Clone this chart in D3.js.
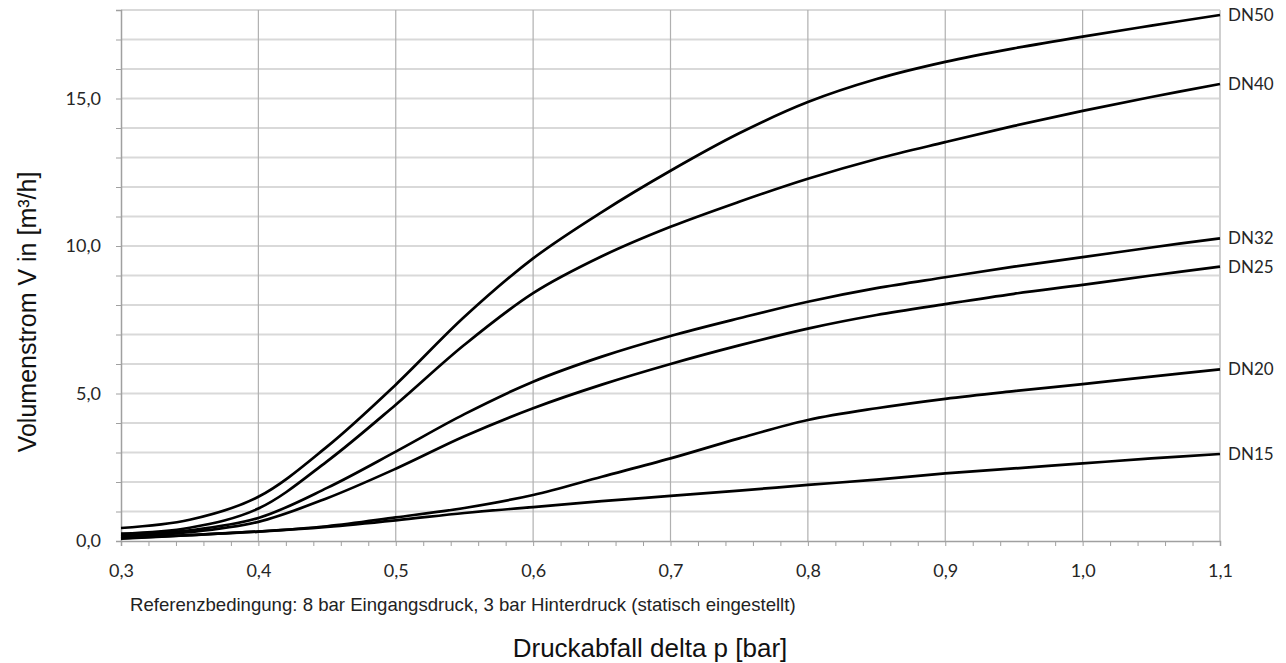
<!DOCTYPE html>
<html>
<head>
<meta charset="utf-8">
<script src="https://cdn.jsdelivr.net/npm/d3@7"></script>
<style>
  body { margin: 0; background: #fff; }
  .tick-label { font-family: Lato, "Open Sans", sans-serif; font-size: 18px; fill: #262626; }
  .dn-label { font-family: Lato, "Open Sans", sans-serif; font-size: 17px; fill: #262626; }
  .title { font-family: "Liberation Sans", Arial, sans-serif; fill: #111; }
</style>
</head>
<body>
<div id="chart"></div>
<script>
"use strict"

// Druckabfall delta p [bar]
const pressure = [0.30, 0.35, 0.40, 0.45, 0.50, 0.55, 0.60, 0.65, 0.70, 0.75, 0.80, 0.85, 0.90, 0.95, 1.00, 1.05, 1.10];

// Volumenstrom [m3/h] per nominal size
const dn50 = [0.44, 0.72, 1.50, 3.20, 5.30, 7.60, 9.58, 11.15, 12.55, 13.82, 14.88, 15.66, 16.24, 16.70, 17.10, 17.47, 17.83];
const dn40 = [0.25, 0.45, 1.10, 2.70, 4.62, 6.65, 8.40, 9.65, 10.65, 11.50, 12.28, 12.95, 13.52, 14.07, 14.58, 15.05, 15.49];
const dn32 = [0.20, 0.36, 0.78, 1.80, 3.03, 4.30, 5.40, 6.25, 6.95, 7.55, 8.11, 8.57, 8.94, 9.30, 9.62, 9.95, 10.26];
const dn25 = [0.15, 0.30, 0.65, 1.45, 2.45, 3.55, 4.50, 5.30, 6.00, 6.63, 7.20, 7.66, 8.03, 8.38, 8.68, 9.00, 9.30];
const dn20 = [0.10, 0.20, 0.32, 0.50, 0.80, 1.12, 1.56, 2.18, 2.80, 3.48, 4.10, 4.50, 4.82, 5.08, 5.32, 5.57, 5.82];
const dn15 = [0.08, 0.20, 0.32, 0.48, 0.70, 0.95, 1.15, 1.35, 1.53, 1.71, 1.90, 2.08, 2.29, 2.46, 2.63, 2.80, 2.95];

const seriesNames = ["DN50", "DN40", "DN32", "DN25", "DN20", "DN15"];
const seriesValues = [dn50, dn40, dn32, dn25, dn20, dn15];

const xTicks = [0.3, 0.4, 0.5, 0.6, 0.7, 0.8, 0.9, 1.0, 1.1];
const yTicks = [0, 5, 10, 15];

const xLabel = "Druckabfall delta p [bar]";
const yLabel = "Volumenstrom V in [m³/h]";
const note = "Referenzbedingung: 8 bar Eingangsdruck, 3 bar Hinterdruck (statisch eingestellt)";

// Figure dimensions
const figWidth = 1286;
const figHeight = 663;
const plotBox = {left: 121, right: 1220, top: 10, bottom: 541};

const svg = d3.select("#chart").append("svg")
  .attr("width", figWidth)
  .attr("height", figHeight);

const xScale = d3.scaleLinear()
  .domain([0.3, 1.1])
  .range([plotBox.left, plotBox.right]);

const yScale = d3.scaleLinear()
  .domain([0, 18])
  .range([plotBox.bottom, plotBox.top]);

const commaFmt = d3.format(".1f");
const decimalComma = v => commaFmt(v).replace(".", ",");

// Horizontal grid (every 1.0)
svg.append("g")
  .attr("class", "ygrid")
  .selectAll("line")
  .data(d3.range(1, 19))
  .enter().append("line")
    .attr("x1", plotBox.left)
    .attr("x2", plotBox.right)
    .attr("y1", d => yScale(d))
    .attr("y2", d => yScale(d))
    .attr("stroke", "#d9d9d9")
    .attr("stroke-width", 2);

// Vertical grid (every 0.1)
svg.append("g")
  .attr("class", "xgrid")
  .selectAll("line")
  .data(xTicks.slice(1, -1))
  .enter().append("line")
    .attr("x1", d => xScale(d))
    .attr("x2", d => xScale(d))
    .attr("y1", plotBox.top)
    .attr("y2", plotBox.bottom)
    .attr("stroke", "#b0b0b0")
    .attr("stroke-width", 1.2);

// right frame line
svg.append("line")
  .attr("x1", plotBox.right).attr("x2", plotBox.right)
  .attr("y1", plotBox.top).attr("y2", plotBox.bottom)
  .attr("stroke", "#cfcfcf")
  .attr("stroke-width", 2);

// Y axis: ticks every 1.0, labels at 0/5/10/15
const yAxis = d3.axisLeft(yScale)
  .tickValues(d3.range(0, 19))
  .tickSize(5)
  .tickPadding(15)
  .tickFormat(d => yTicks.includes(d) ? decimalComma(d) : "");

const yAxisG = svg.append("g")
  .attr("transform", `translate(${plotBox.left},0)`)
  .call(yAxis);
yAxisG.select(".domain").attr("stroke", "#a0a0a0").attr("stroke-width", 1.5);
yAxisG.selectAll(".tick line").attr("stroke", "#a0a0a0");
yAxisG.selectAll(".tick text").attr("class", "tick-label").attr("font-size", null).attr("font-family", null);

// X axis: minor ticks every 0.02, labels every 0.1
const xAxis = d3.axisBottom(xScale)
  .tickValues(d3.range(0, 41).map(i => 0.3 + i * 0.02))
  .tickSize(5)
  .tickPadding(18)
  .tickFormat(d => {
    const r = Math.round(d * 100);
    return r % 10 === 0 ? decimalComma(d) : "";
  });

const xAxisG = svg.append("g")
  .attr("transform", `translate(0,${plotBox.bottom})`)
  .call(xAxis);
xAxisG.select(".domain").attr("stroke", "#a0a0a0").attr("stroke-width", 1.5);
xAxisG.selectAll(".tick line").attr("stroke", "#a0a0a0");
xAxisG.selectAll(".tick text").attr("class", "tick-label").attr("font-size", null).attr("font-family", null);

// Curves
const line = d3.line()
  .x((d, i) => xScale(pressure[i]))
  .y(d => yScale(d))
  .curve(d3.curveCatmullRom.alpha(0.5));

svg.append("g")
  .attr("class", "curves")
  .selectAll("path")
  .data(seriesValues)
  .enter().append("path")
    .attr("d", line)
    .attr("fill", "none")
    .attr("stroke", "#000")
    .attr("stroke-width", 2.7);

// Series labels at the right end
svg.append("g")
  .selectAll("text")
  .data(seriesNames)
  .enter().append("text")
    .attr("class", "dn-label")
    .attr("x", plotBox.right + 8)
    .attr("y", (d, i) => yScale(seriesValues[i][seriesValues[i].length - 1]))
    .attr("dy", "0.35em")
    .text(d => d);

// Axis titles and note
svg.append("text")
  .attr("class", "title")
  .attr("transform", `translate(36, 312) rotate(-90)`)
  .style("text-anchor", "middle")
  .style("font-size", "25px")
  .text(yLabel);

svg.append("text")
  .attr("class", "title")
  .attr("x", 650)
  .attr("y", 657)
  .style("text-anchor", "middle")
  .style("font-size", "26px")
  .text(xLabel);

svg.append("text")
  .attr("class", "title")
  .attr("x", 130)
  .attr("y", 611)
  .style("font-size", "18.6px")
  .style("fill", "#222")
  .text(note);
</script>
</body>
</html>
